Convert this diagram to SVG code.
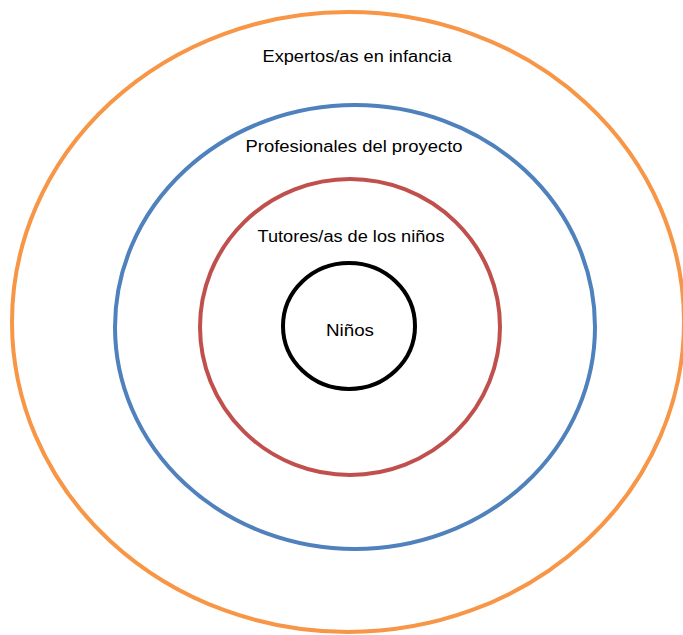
<svg xmlns="http://www.w3.org/2000/svg" width="683" height="635" viewBox="0 0 683 635">
<style>
.ring{fill:none;stroke-width:4}
.lbl{font-family:"Liberation Sans",Arial,sans-serif;font-size:16px;fill:#000;text-anchor:middle}
</style>
<rect width="683" height="635" fill="#fff"/>
<g id="expertos"><ellipse class="ring" cx="348" cy="322" rx="336" ry="310" stroke="#F79646"/><text class="lbl" x="357" y="62" textLength="189" lengthAdjust="spacingAndGlyphs">Expertos/as en infancia</text></g>
<g id="profesionales"><ellipse class="ring" cx="355" cy="327" rx="240" ry="222" stroke="#4F81BD"/><text class="lbl" x="354" y="152" textLength="217" lengthAdjust="spacingAndGlyphs">Profesionales del proyecto</text></g>
<g id="tutores"><ellipse class="ring" cx="350" cy="327" rx="150" ry="148" stroke="#C0504D"/><text class="lbl" x="351" y="242" textLength="187" lengthAdjust="spacingAndGlyphs">Tutores/as de los niños</text></g>
<g id="ninos"><ellipse class="ring" cx="349" cy="326" rx="66" ry="63" stroke="#000"/><text class="lbl" x="350" y="336" textLength="48" lengthAdjust="spacingAndGlyphs">Niños</text></g>
<g id="connectors"/>
</svg>
